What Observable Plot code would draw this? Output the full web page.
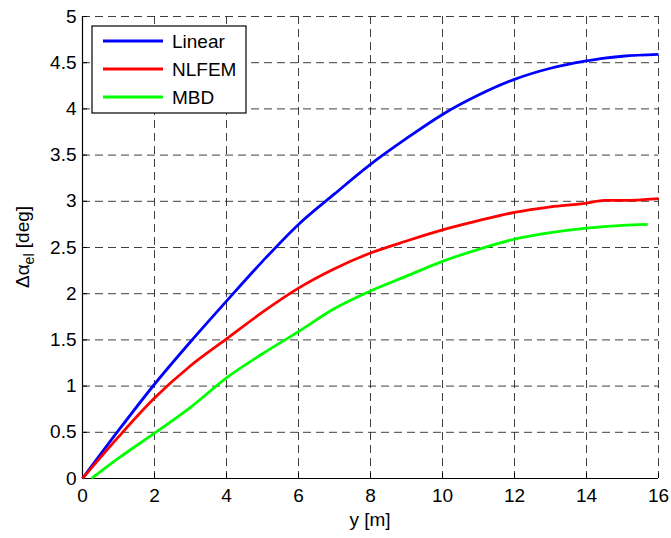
<!DOCTYPE html>
<html>
<head>
<meta charset="utf-8">
<script src="https://cdn.jsdelivr.net/npm/d3@7"></script>
<script src="https://cdn.jsdelivr.net/npm/@observablehq/plot@0.6"></script>
<style>
  html, body { margin: 0; padding: 0; background: #fff; }
  svg { display: block; }
</style>
</head>
<body>
<div id="chart"></div>
<script>
// ---- data ----
const seriesNames = ["Linear", "NLFEM", "MBD"];
const seriesColors = ["#0000ff", "#ff0000", "#00ff00"];

const linearX = [0, 1, 2, 3, 4, 5, 6, 7, 8, 9, 10, 11, 12, 13, 14, 14.5, 15, 16];
const linearY = [0, 0.52, 1.02, 1.48, 1.92, 2.35, 2.75, 3.08, 3.40, 3.68, 3.94, 4.15, 4.32, 4.44, 4.52, 4.55, 4.57, 4.59];

const nlfemX = [0, 1, 2, 3, 4, 5, 6, 7, 8, 9, 10, 11, 12, 13, 14, 14.5, 15, 16];
const nlfemY = [0, 0.45, 0.87, 1.22, 1.51, 1.80, 2.06, 2.27, 2.44, 2.57, 2.69, 2.79, 2.88, 2.94, 2.98, 3.01, 3.01, 3.03];

const mbdX = [0.25, 1, 2, 3, 4, 5, 6, 7, 8, 9, 10, 11, 12, 13, 14, 15, 15.7];
const mbdY = [0, 0.22, 0.49, 0.77, 1.09, 1.35, 1.59, 1.84, 2.03, 2.19, 2.35, 2.48, 2.59, 2.66, 2.71, 2.74, 2.75];

const xTicks = [0, 2, 4, 6, 8, 10, 12, 14, 16];
const yTicks = [0, 0.5, 1, 1.5, 2, 2.5, 3, 3.5, 4, 4.5, 5];
const xLabel = "y [m]";
const yLabelMain = "Δα";
const yLabelSub = "el";
const yLabelTail = " [deg]";

// ---- build table ----
const rows = [];
[[linearX, linearY], [nlfemX, nlfemY], [mbdX, mbdY]].forEach(([xs, ys], i) => {
  xs.forEach((x, j) => rows.push({series: seriesNames[i], x, y: ys[j]}));
});

const W = 671, H = 538;
const mL = 82, mR = 13, mT = 16, mB = 60;
const pxPerX = (W - mL - mR) / 16;
const pxPerY = (H - mT - mB) / 5;
const tickLen = 5;
const gridStyle = {stroke: "#2a2a2a", strokeOpacity: 0.9, strokeWidth: 1, strokeDasharray: "8,5"};

const plot = Plot.plot({
  width: W,
  height: H,
  marginLeft: mL, marginRight: mR, marginTop: mT, marginBottom: mB,
  style: {fontFamily: "'Liberation Sans', Arial, sans-serif", fontSize: "19px", color: "#000", background: "#fff"},
  x: {domain: [0, 16]},
  y: {domain: [0, 5]},
  marks: [
    Plot.gridX(xTicks, gridStyle),
    Plot.gridY(yTicks, gridStyle),
    Plot.ruleX(xTicks, {y1: 0, y2: tickLen / pxPerY, stroke: "#000"}),
    Plot.ruleY(yTicks, {x1: 0, x2: tickLen / pxPerX, stroke: "#000"}),
    Plot.ruleX([0], {stroke: "#000", strokeWidth: 1.2}),
    Plot.ruleY([0], {stroke: "#000", strokeWidth: 1.2}),
    Plot.axisX({ticks: xTicks, tickSize: 0, tickPadding: 10, label: null, tickFormat: d => String(d)}),
    Plot.axisY({ticks: yTicks, tickSize: 0, tickPadding: 6, label: null, tickFormat: d => String(d)}),
    Plot.line(rows, {
      x: "x", y: "y", z: "series",
      stroke: d => seriesColors[seriesNames.indexOf(d.series)],
      strokeWidth: 2.8, strokeLinejoin: "round", strokeLinecap: "butt",
      curve: "monotone-x"
    })
  ]
});

const svg = d3.select(plot);
const xs = plot.scale("x"), ys = plot.scale("y");

// x-axis title
svg.append("text")
  .attr("x", (xs.apply(0) + xs.apply(16)) / 2)
  .attr("y", 526)
  .attr("text-anchor", "middle")
  .attr("font-size", 19)
  .text(xLabel);

// y-axis title with subscript
const yt = svg.append("text")
  .attr("transform", `translate(29, ${(ys.apply(0) + ys.apply(5)) / 2}) rotate(-90)`)
  .attr("text-anchor", "middle")
  .attr("font-size", 19);
yt.append("tspan").text(yLabelMain);
yt.append("tspan").attr("font-size", 14).attr("dy", 5).text(yLabelSub);
yt.append("tspan").attr("dy", -5).text(yLabelTail);

// legend box (inside the axes, top-left)
const lg = svg.append("g").attr("transform", "translate(92,26)");
lg.append("rect").attr("x", 0).attr("y", 0).attr("width", 154).attr("height", 87)
  .attr("fill", "#fff").attr("stroke", "#000").attr("stroke-width", 1.2);
seriesNames.forEach((name, i) => {
  const cy = 15 + i * 28;
  lg.append("line").attr("x1", 11).attr("x2", 71).attr("y1", cy).attr("y2", cy)
    .attr("stroke", seriesColors[i]).attr("stroke-width", 3);
  lg.append("text").attr("x", 80).attr("y", cy).attr("dy", "0.35em")
    .attr("text-anchor", "start").style("text-anchor", "start")
    .attr("font-size", 19).text(name);
});

document.getElementById("chart").appendChild(plot);
</script>
</body>
</html>
